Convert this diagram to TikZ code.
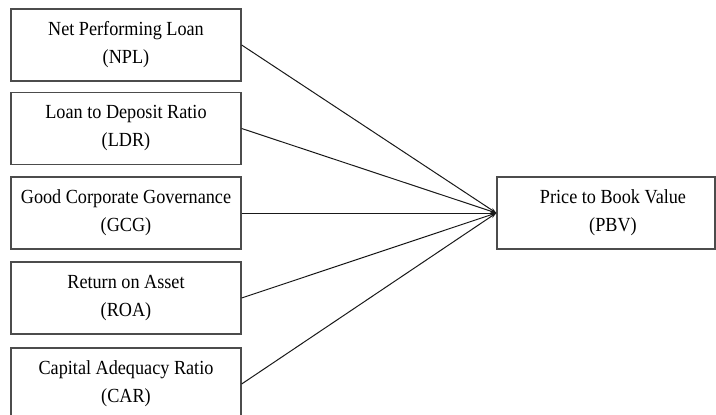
\documentclass[tikz,border=0pt]{standalone}
\usepackage{fontspec}
\setmainfont{Liberation Serif}[FakeStretch=0.91]
\usetikzlibrary{arrows.meta}
\begin{document}
\begin{tikzpicture}[x=1pt,y=-1pt,
  box/.style={draw=black!70, line width=1.3pt, minimum width=230pt, minimum height=72pt,
    align=center, font=\fontsize{20}{28}\selectfont, inner sep=0pt},
  txt/.style={align=center, font=\fontsize{20}{28}\selectfont, inner sep=0pt},
  link/.style={line width=1pt, draw=black!90, -{Stealth[length=6pt,width=4pt]}}]
\useasboundingbox (0,0) rectangle (716,415);
\node[box] (npl) at (126,45) {Net Performing Loan\\(NPL)};
\node[box] (ldr) at (126,128.5) {Loan to Deposit Ratio\\(LDR)};
\node[box] (gcg) at (126,213) {Good Corporate Governance\\(GCG)};
\node[box] (roa) at (126,298) {Return on Asset\\(ROA)};
\node[box] (car) at (126,384) {Capital Adequacy Ratio\\(CAR)};
\node[box, minimum width=218pt] (pbv) at (606,213) {};
\node[txt] (pbvtext) at (613,213) {Price to Book Value\\(PBV)};
\draw[link] (npl.east) -- (pbv.west);
\draw[link] (ldr.east) -- (pbv.west);
\draw[link] (gcg.east) -- (pbv.west);
\draw[link] (roa.east) -- (pbv.west);
\draw[link] (car.east) -- (pbv.west);
\end{tikzpicture}
\end{document}
